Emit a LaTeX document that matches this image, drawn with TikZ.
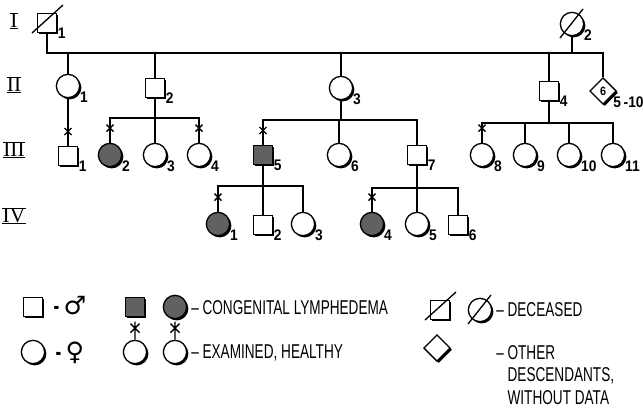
\documentclass[tikz,border=0pt]{standalone}
\usepackage{fontspec}
\setmainfont{Liberation Sans}
\newfontfamily\legfont[FakeStretch=0.68]{Liberation Sans}
\newfontfamily\numfont[FakeStretch=0.9]{Liberation Sans}
\newfontfamily\genfont{Liberation Serif}
\newfontfamily\symfont{DejaVu Sans}
\usetikzlibrary{shapes.geometric,shadows}

\tikzset{
  line/.style={line width=1pt},
  sym/.style={draw, line width=1pt, fill=white, inner sep=0pt,
    drop shadow={shadow xshift=1.3pt, shadow yshift=-1.3pt, fill=black, opacity=1}},
  male/.style={sym, rectangle, minimum size=14pt},
  female/.style={sym, circle, minimum size=17.5pt},
  other/.style={sym, diamond, minimum size=20pt, font=\numfont\bfseries\small},
  aff/.style={fill=black!62},
  lab/.style={font=\numfont\bfseries\fontsize{11.5}{11.5}\selectfont, inner sep=0.5pt, label distance=0pt},
  gen/.style={font=\genfont\fontsize{16}{16}\selectfont, inner sep=0pt},
  legtext/.style={font=\legfont\fontsize{15}{17}\selectfont, inner sep=0pt},
  sextext/.style={font=\symfont\fontsize{19}{19}\selectfont, inner sep=0pt},
  every label/.style={lab}
}

% examined mark on a stem above a symbol
\newcommand{\exam}[1]{\draw[line] ([shift={(-3.5,-18)}]#1.north) -- ([shift={(3.5,-11)}]#1.north)
  ([shift={(-3.5,-11)}]#1.north) -- ([shift={(3.5,-18)}]#1.north);}
% examined mark for the legend
\newcommand{\legexam}[1]{\draw[line] (#1.north) -- ([shift={(0,-18)}]#1.north)
  ([shift={(-4.5,-16)}]#1.north) -- ([shift={(4.5,-7)}]#1.north)
  ([shift={(-4.5,-7)}]#1.north) -- ([shift={(4.5,-16)}]#1.north);}
% generation numeral with its bars
\newcommand{\gennum}[3]{\node[gen] (#1) at #2 {#3};
  \draw[line width=0.6pt] (#1.north west) -- (#1.north east) (#1.south west) -- (#1.south east);}

\begin{document}
\begin{tikzpicture}[x=0.75pt,y=0.75pt,yscale=-1,xscale=1]
\useasboundingbox (0,0) rectangle (643,408);

% generations
\gennum{gI}{(14,21)}{I}
\gennum{gII}{(14,85)}{II}
\gennum{gIII}{(14,150)}{III}
\gennum{gIV}{(14,216)}{IV}

% generation I
\node[male, label={-20:1}] (I1) at (47,23) {};
\node[female, label={-25:2}] (I2) at (572,24) {};
\draw[line] ([shift={(-15,10)}]I1.center) -- ([shift={(16,-18)}]I1.center);
\draw[line] ([shift={(-12,14)}]I2.center) -- ([shift={(11,-15)}]I2.center);

% generation II
\node[female, label={-25:1}] (II1) at (68,86) {};
\node[male, label={-20:2}] (II2) at (155,88) {};
\node[female, label={-25:3}] (II3) at (341,88) {};
\node[male, label={-20:4}] (II4) at (549,91) {};
\node[other, label={-25:5\,-10}] (II5) at (603,91) {6};

% generation III
\node[male, label={-20:1}] (III1) at (68,156) {};
\node[female, aff, label={-25:2}] (III2) at (110,155) {};
\node[female, label={-25:3}] (III3) at (155,155) {};
\node[female, label={-25:4}] (III4) at (199,155) {};
\node[male, aff, label={-20:5}] (III5) at (263,155) {};
\node[female, label={-25:6}] (III6) at (339,155) {};
\node[male, label={-20:7}] (III7) at (417,155) {};
\node[female, label={-25:8}] (III8) at (482,155) {};
\node[female, label={-25:9}] (III9) at (525,155) {};
\node[female, label={-25:10}] (III10) at (569,155) {};
\node[female, label={-25:11}] (III11) at (613,155) {};

% generation IV
\node[female, aff, label={-25:1}] (IV1) at (218,224) {};
\node[male, label={-20:2}] (IV2) at (263,225) {};
\node[female, label={-25:3}] (IV3) at (303,224) {};
\node[female, aff, label={-25:4}] (IV4) at (372,224) {};
\node[female, label={-25:5}] (IV5) at (417,224) {};
\node[male, label={-20:6}] (IV6) at (458,225) {};

% lines of descent
\coordinate (m) at (341,53);
\coordinate (s2) at (155,118);
\coordinate (s3) at (341,120);
\coordinate (s4) at (549,123);
\coordinate (s5) at (263,186);
\coordinate (s7) at (417,188);

\draw[line] (I1) |- (m) -| (I2);
\draw[line] (m) -| (II5);
\draw[line] (II1) -- (II1 |- m);
\draw[line] (II2) -- (II2 |- m);
\draw[line] (II3) -- (m);
\draw[line] (II4) -- (II4 |- m);

\draw[line] (II1) -- (III1);
\draw[line] (II2) -- (III3);
\draw[line] (III2) |- (s2) -| (III4);
\draw[line] (II3) -- (s3);
\draw[line] (III5) |- (s3) -| (III7);
\draw[line] (III6) -- (III6 |- s3);
\draw[line] (II4) -- (s4);
\draw[line] (III8) |- (s4) -| (III11);
\draw[line] (III9) -- (III9 |- s4);
\draw[line] (III10) -- (III10 |- s4);

\draw[line] (III5) -- (IV2);
\draw[line] (IV1) |- (s5) -| (IV3);
\draw[line] (III7) -- (IV5);
\draw[line] (IV4) |- (s7) -| (IV6);

% examined
\exam{III1} \exam{III2} \exam{III4} \exam{III5} \exam{III8}
\exam{IV1} \exam{IV4}

% legend
\node[male] (L1) at (33,307) {};
\node[sextext] (Lm) at (70,306) {{\legfont\bfseries -}\,♂};
\node[male, aff] (L2) at (135,307) {};
\node[female, aff] (L3) at (175,307) {};
\node[legtext, anchor=west] (Ltxt1) at (191,308) {– CONGENITAL LYMPHEDEMA};

\node[male] (L4) at (440,310) {};
\node[female] (L5) at (480,310) {};
\draw[line] ([shift={(-15,10)}]L4.center) -- ([shift={(16,-18)}]L4.center);
\draw[line] ([shift={(-12,14)}]L5.center) -- ([shift={(11,-15)}]L5.center);
\node[legtext, anchor=west] (Ltxt2) at (496,310) {– DECEASED};

\node[female] (L6) at (33,352) {};
\node[sextext] (Lf) at (70,353) {{\legfont\bfseries -}\,♀};
\node[female] (L7) at (135,352) {};
\node[female] (L8) at (175,352) {};
\legexam{L7} \legexam{L8}
\node[legtext, anchor=west] (Ltxt3) at (191,353) {– EXAMINED, HEALTHY};

\node[other] (L9) at (437,348) {};
\node[legtext, anchor=north west, align=left] (Ltxt4) at (496,345)
  {– OTHER\\\hphantom{– }DESCENDANTS,\\\hphantom{– }WITHOUT DATA};

\end{tikzpicture}
\end{document}
